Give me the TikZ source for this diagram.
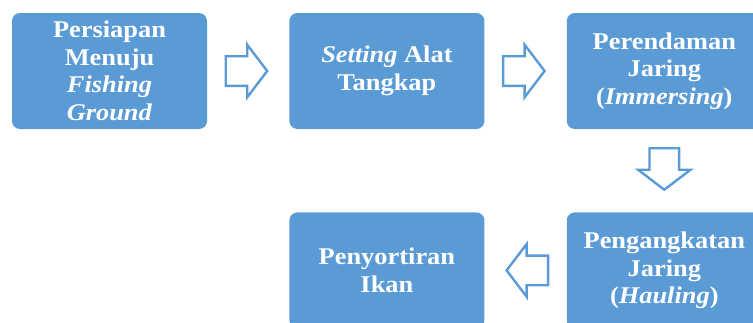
\documentclass[tikz,border=0pt]{standalone}
\usepackage{fontspec}
\setmainfont{Liberation Serif}[FakeStretch=1.1]
\usetikzlibrary{positioning,calc}
\definecolor{stepblue}{HTML}{5B9BD5}
\tikzstyle{stepbox}=[fill=stepblue,rounded corners=8pt,minimum width=195pt,
minimum height=116pt,inner sep=0pt,text=white,align=center,
font=\fontsize{24}{27.5}\selectfont\bfseries]
\tikzstyle{arrowline}=[draw=stepblue,fill=white,line width=2.4pt]
% hollow block arrow, pointing along +x
\tikzset{blockarrow/.pic={
	\draw[arrowline] (-22.5,-14.8) -- (-1,-14.8) -- (-1,-26.3) -- (19,0)
	-- (-1,26.3) -- (-1,14.8) -- (-22.5,14.8) -- cycle;
}}

\begin{document}
\begin{tikzpicture}[x=1pt,y=-1pt]
	\useasboundingbox (0,0) rectangle (753,322);

	% process steps
	\node[stepbox] (persiapan) at (109.5,71) {Persiapan\\Menuju\\\textit{Fishing}\\\textit{Ground}};
	\node[stepbox,right=82pt of persiapan] (setting) {\textit{Setting} Alat\\Tangkap};
	\node[stepbox,right=82pt of setting] (perendaman) {Perendaman\\Jaring\\(\textit{Immersing})};
	\node[stepbox,below=83pt of perendaman] (pengangkatan) {Pengangkatan\\Jaring\\(\textit{Hauling})};
	\node[stepbox,left=82pt of pengangkatan] (penyortiran) {Penyortiran\\Ikan};

	% arrows between the steps
	\coordinate (a1) at ($(persiapan.east)!0.5!(setting.west)$);
	\coordinate (a2) at ($(setting.east)!0.5!(perendaman.west)$);
	\coordinate (a3) at ($(perendaman.south)!0.5!(pengangkatan.north)$);
	\coordinate (a4) at ($(pengangkatan.west)!0.5!(penyortiran.east)$);
	\pic at (a1) {blockarrow};
	\pic at (a2) {blockarrow};
	\pic[rotate=-90] at (a3) {blockarrow};
	\pic[rotate=180] at (a4) {blockarrow};
\end{tikzpicture}
\end{document}
